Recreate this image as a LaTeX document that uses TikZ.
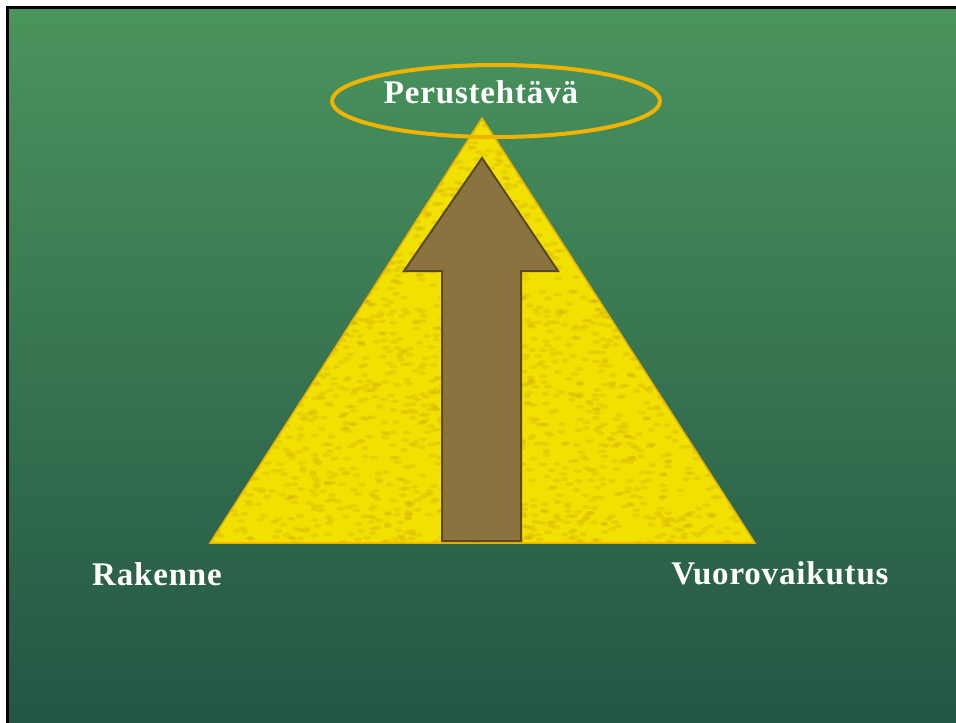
\documentclass[tikz,border=0pt]{standalone}
\usepackage{fontspec}
\setmainfont{Liberation Serif}
\usetikzlibrary{shapes.geometric}
\definecolor{bgtop}{RGB}{74,148,93}
\definecolor{bgbot}{RGB}{35,85,68}
\definecolor{pyrfill}{RGB}{242,224,0}
\definecolor{pyredge}{RGB}{232,176,0}
\definecolor{pyrdot}{RGB}{205,165,10}
\definecolor{arrowfill}{RGB}{139,115,64}
\definecolor{arrowedge}{RGB}{88,72,40}
\definecolor{ringcol}{RGB}{240,180,0}
\tikzset{
  lbl/.style={text=white,font=\bfseries\fontsize{33}{38}\selectfont\addfontfeature{LetterSpace=2.5},inner sep=0pt},
  ring/.style={ellipse,draw=ringcol,line width=4pt,minimum width=328pt,minimum height=72pt,inner sep=0pt},
  pyramid/.style={fill=pyrfill},
  pyramidedge/.style={draw=pyredge,line width=1.5pt},
  bigarrow/.style={fill=arrowfill,draw=arrowedge,line width=2pt,line join=miter}
}
\begin{document}
\begin{tikzpicture}[x=1pt,y=-1pt]
\useasboundingbox (0,0) rectangle (956,723);
\fill[white] (0,0) rectangle (956,723);
\shade[top color=bgtop,bottom color=bgbot] (8,8) rectangle (956,723);
\draw[line width=3pt] (7.5,723) -- (7.5,7.5) -- (956,7.5);
% pyramid
\coordinate (apex) at (482,118);
\coordinate (bl) at (210,543);
\coordinate (br) at (755,543);
\fill[pyramid] (apex) -- (bl) -- (br) -- cycle;
\begin{scope}
\clip (apex) -- (bl) -- (br) -- cycle;
\pgfmathsetseed{7}
\foreach \i in {1,...,2600} {
  \pgfmathsetmacro\px{210+545*rnd}
  \pgfmathsetmacro\py{118+425*rnd}
  \fill[pyrdot,opacity=0.28] (\px,\py) ellipse (4pt and 2pt);
}
\end{scope}
\draw[pyramidedge] (apex) -- (bl) -- (br) -- cycle;
% arrow
\coordinate (tip) at (482,158);
\draw[bigarrow] (tip) -- (558,271) -- (521,271) -- (521,541) -- (442,541) -- (442,271) -- (404,271) -- cycle;
% ring and labels
\node[ring] (ringnode) at (496,101) {};
\node[lbl,anchor=base] (perus) at (481,103) {Perusteht\"av\"a};
\node[lbl,anchor=base] (rak) at (157,585) {Rakenne};
\node[lbl,anchor=base] (vuoro) at (780,584) {Vuorovaikutus};
\end{tikzpicture}
\end{document}
